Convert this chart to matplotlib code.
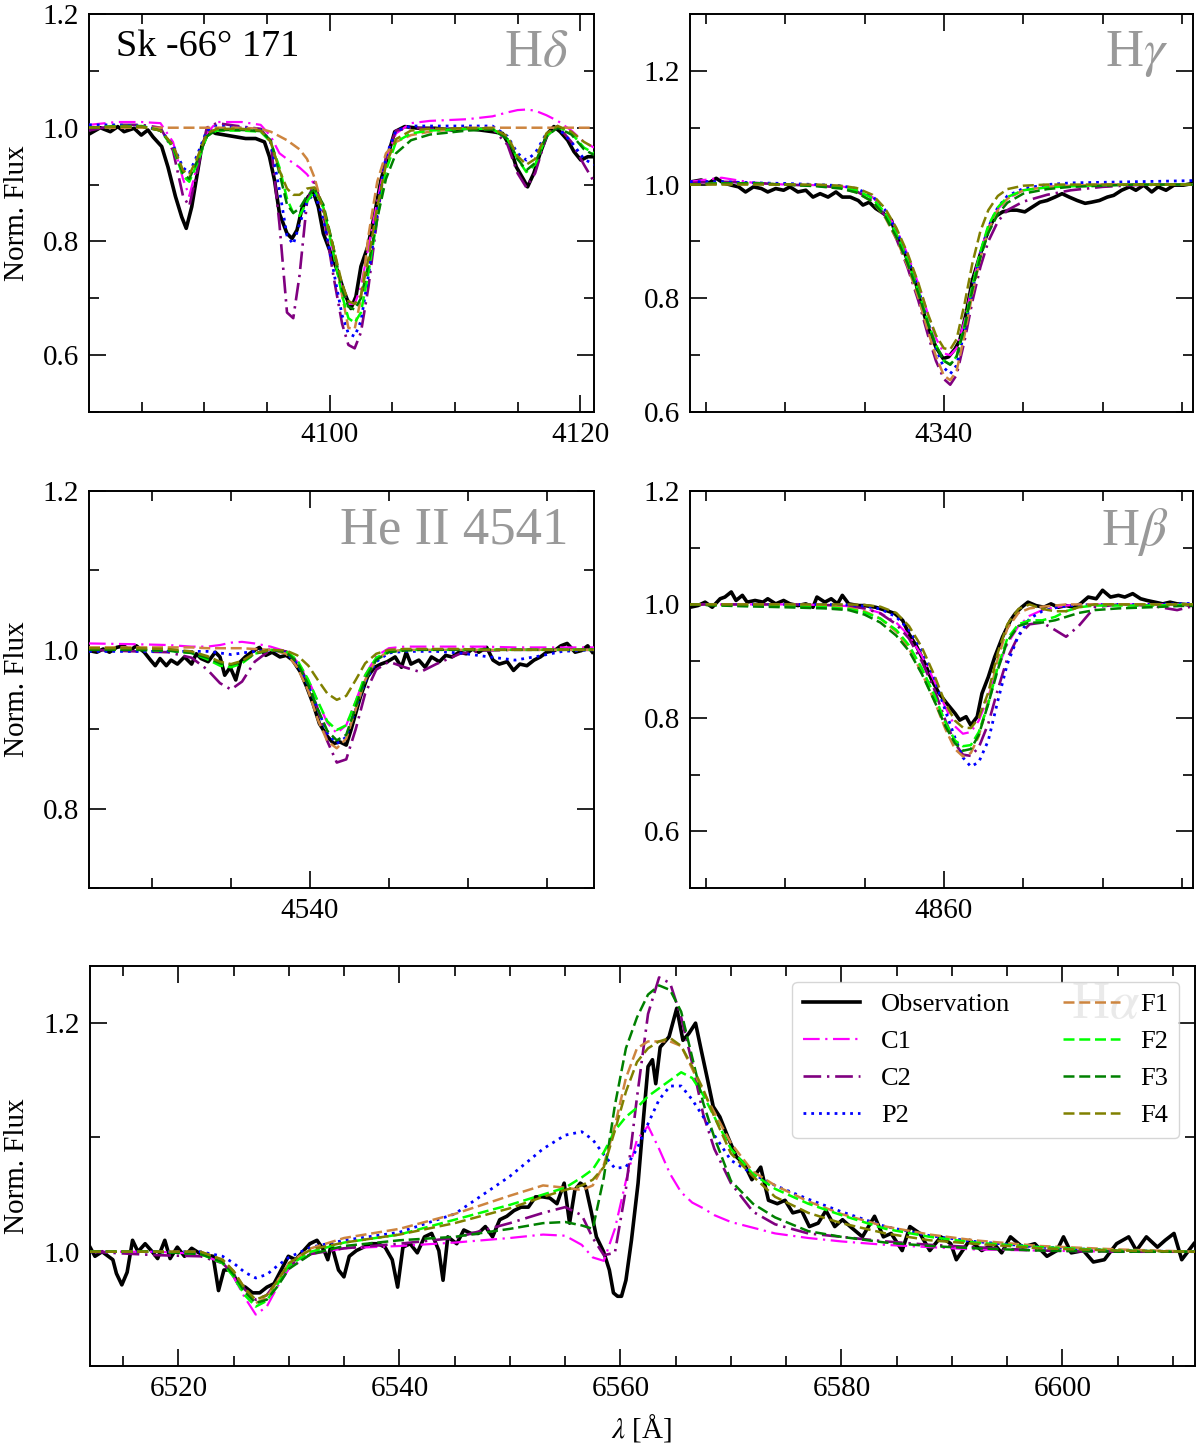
import matplotlib
matplotlib.use('Agg')
import matplotlib.pyplot as plt
from matplotlib.ticker import MultipleLocator, FormatStrFormatter

plt.rcParams['font.family'] = 'serif'
plt.rcParams['font.serif'] = ['Liberation Serif', 'DejaVu Serif']
plt.rcParams['mathtext.fontset'] = 'stix'

model_names = ['C1', 'C2', 'P2', 'F1', 'F2', 'F3', 'F4']

# ---------------- H delta ----------------
hd_obs = [(4080.9, 0.990), (4081.7, 1.000), (4082.5, 0.993), (4083.1, 1.002), (4083.6, 0.993),
          (4084.4, 0.999), (4084.97, 0.987), (4085.5, 0.996), (4085.9, 0.984), (4086.6, 0.967),
          (4087.1, 0.931), (4087.7, 0.879), (4088.2, 0.843), (4088.56, 0.823), (4089.0, 0.861),
          (4089.4, 0.914), (4089.8, 0.967), (4090.4, 0.996), (4090.9, 0.990), (4091.7, 0.987),
          (4092.5, 0.984), (4093.3, 0.981), (4094.1, 0.981), (4094.8, 0.975), (4095.2, 0.949),
          (4095.6, 0.908), (4096.0, 0.849), (4096.6, 0.814), (4097.0, 0.805), (4097.4, 0.820),
          (4097.8, 0.858), (4098.3, 0.879), (4098.7, 0.887), (4099.1, 0.861), (4099.5, 0.814),
          (4100.1, 0.779), (4100.6, 0.750), (4101.2, 0.709), (4101.7, 0.682), (4102.1, 0.703),
          (4102.5, 0.756), (4103.05, 0.791), (4103.6, 0.849), (4104.1, 0.908), (4104.7, 0.955),
          (4105.2, 0.993), (4106.0, 1.002), (4107.1, 0.999), (4108.4, 0.999), (4109.8, 0.996),
          (4110.9, 0.999), (4112.0, 0.996), (4113.0, 0.993), (4113.8, 0.990), (4114.4, 0.967),
          (4114.9, 0.931), (4115.5, 0.908), (4115.8, 0.896), (4116.3, 0.920), (4116.8, 0.955),
          (4117.4, 0.990), (4117.9, 1.002), (4118.4, 0.993), (4119.0, 0.978), (4119.5, 0.958),
          (4120.05, 0.943), (4120.6, 0.949), (4121.0, 0.949)]
hd_grid = [4080.8, 4083, 4085, 4086.5, 4087.5, 4088.3, 4088.8, 4089.4, 4090.2, 4091,
           4093, 4094.5, 4095.3, 4096, 4096.6, 4097.1, 4097.6, 4098.2, 4098.8, 4099.5,
           4100.3, 4101, 4101.5, 4102, 4102.5, 4103.1, 4103.8, 4104.5, 4105.3, 4106.5,
           4108, 4111, 4113, 4114.2, 4115, 4115.7, 4116.4, 4117.3, 4118.2, 4119.3,
           4120.3, 4121.1]
hd_C1 = [1.005, 1.010, 1.010, 1.008, 0.975, 0.910, 0.880, 0.930, 0.990, 1.010,
         1.010, 1.005, 0.985, 0.955, 0.945, 0.938, 0.930, 0.918, 0.900, 0.860,
         0.780, 0.715, 0.690, 0.690, 0.720, 0.790, 0.870, 0.945, 0.990, 1.008,
         1.012, 1.015, 1.020, 1.027, 1.031, 1.032, 1.030, 1.022, 1.012, 0.995,
         0.975, 0.965]
hd_C2 = [0.995, 1.005, 1.005, 1.000, 0.960, 0.880, 0.862, 0.920, 1.000, 1.008,
         1.002, 0.998, 0.975, 0.830, 0.675, 0.665, 0.740, 0.870, 0.905, 0.850,
         0.740, 0.655, 0.618, 0.612, 0.640, 0.720, 0.840, 0.950, 0.995, 1.000,
         0.998, 0.999, 0.998, 0.970, 0.920, 0.895, 0.920, 0.985, 1.003, 0.975,
         0.935, 0.905]
hd_P2 = [1.005, 1.005, 1.003, 0.995, 0.970, 0.930, 0.920, 0.950, 0.995, 1.003,
         1.000, 0.998, 0.975, 0.890, 0.810, 0.795, 0.830, 0.870, 0.885, 0.840,
         0.750, 0.670, 0.638, 0.633, 0.660, 0.740, 0.850, 0.950, 0.995, 1.003,
         1.003, 1.003, 1.003, 0.985, 0.955, 0.943, 0.955, 0.990, 1.000, 0.975,
         0.945, 0.935]
hd_F1 = [1.000, 1.000, 1.000, 1.000, 1.000, 1.000, 1.000, 1.000, 1.000, 1.000,
         1.000, 0.998, 0.993, 0.985, 0.978, 0.970, 0.962, 0.945, 0.912, 0.855,
         0.790, 0.705, 0.648, 0.646, 0.700, 0.810, 0.905, 0.955, 0.975, 0.987,
         0.993, 1.000, 1.000, 1.000, 1.000, 1.000, 1.000, 1.000, 1.000, 1.000,
         1.000, 1.000]
hd_F2 = [1.000, 1.003, 1.003, 0.995, 0.965, 0.915, 0.905, 0.935, 0.985, 0.995,
         0.995, 0.993, 0.975, 0.930, 0.875, 0.850, 0.845, 0.870, 0.890, 0.860,
         0.780, 0.705, 0.665, 0.657, 0.675, 0.745, 0.840, 0.925, 0.975, 0.990,
         0.995, 0.998, 0.998, 0.980, 0.945, 0.922, 0.935, 0.985, 1.002, 0.990,
         0.965, 0.955]
hd_F3 = [1.000, 1.002, 1.002, 0.995, 0.968, 0.920, 0.910, 0.940, 0.985, 0.996,
         0.996, 0.994, 0.978, 0.920, 0.865, 0.850, 0.858, 0.880, 0.892, 0.865,
         0.790, 0.715, 0.685, 0.680, 0.700, 0.760, 0.840, 0.910, 0.955, 0.978,
         0.988, 0.995, 0.997, 0.980, 0.945, 0.925, 0.938, 0.985, 1.000, 0.988,
         0.962, 0.952]
hd_F4 = [1.000, 1.002, 1.002, 0.995, 0.970, 0.925, 0.917, 0.945, 0.990, 0.998,
         0.998, 0.995, 0.975, 0.925, 0.893, 0.882, 0.882, 0.893, 0.895, 0.860,
         0.790, 0.725, 0.695, 0.690, 0.705, 0.770, 0.860, 0.935, 0.980, 0.995,
         0.998, 0.999, 0.999, 0.985, 0.950, 0.935, 0.945, 0.990, 1.003, 0.993,
         0.975, 0.965]

# ---------------- H gamma ----------------
hg_obs = [(4324.1, 1.005), (4324.7, 1.008), (4325.2, 1.003), (4325.65, 1.011), (4326.1, 1.003),
          (4326.6, 0.999), (4327.06, 0.996), (4327.5, 0.987), (4328.0, 0.996), (4328.5, 0.993),
          (4328.9, 0.987), (4329.4, 0.993), (4329.9, 0.990), (4330.3, 0.996), (4330.8, 0.987),
          (4331.3, 0.990), (4331.75, 0.978), (4332.2, 0.984), (4332.7, 0.978), (4333.2, 0.987),
          (4333.6, 0.978), (4334.1, 0.978), (4334.6, 0.972), (4334.9, 0.964), (4335.3, 0.969),
          (4335.7, 0.958), (4336.2, 0.949), (4336.7, 0.937), (4337.0, 0.908), (4337.4, 0.890),
          (4337.7, 0.867), (4338.1, 0.843), (4338.5, 0.796), (4339.0, 0.749), (4339.5, 0.714),
          (4339.95, 0.694), (4340.3, 0.697), (4340.7, 0.711), (4341.0, 0.726), (4341.4, 0.773),
          (4341.8, 0.832), (4342.3, 0.878), (4342.8, 0.920), (4343.2, 0.943), (4343.7, 0.952),
          (4344.2, 0.955), (4344.6, 0.955), (4345.1, 0.952), (4345.6, 0.961), (4346.05, 0.969),
          (4346.5, 0.972), (4347.0, 0.978), (4347.45, 0.984), (4347.9, 0.978), (4348.4, 0.972),
          (4348.9, 0.967), (4349.3, 0.969), (4349.8, 0.972), (4350.3, 0.978), (4350.7, 0.981),
          (4351.2, 0.990), (4351.7, 0.996), (4352.1, 0.990), (4352.6, 0.999), (4353.1, 0.987),
          (4353.5, 0.996), (4354.0, 0.990), (4354.5, 0.999), (4355.1, 0.999), (4355.7, 1.002)]
hg_grid = [4324, 4326, 4328, 4330, 4332, 4333.5, 4334.5, 4335.5, 4336.3, 4337,
           4337.7, 4338.4, 4339, 4339.5, 4340, 4340.4, 4340.8, 4341.3, 4341.8, 4342.3,
           4342.8, 4343.4, 4344, 4345, 4346.5, 4348, 4350, 4352, 4354, 4355.7]
hg_C1 = [1.005, 1.012, 1.003, 1.000, 0.999, 0.997, 0.992, 0.978, 0.955, 0.922,
         0.878, 0.825, 0.772, 0.730, 0.703, 0.700, 0.712, 0.760, 0.825, 0.882,
         0.925, 0.957, 0.975, 0.990, 0.996, 0.998, 1.000, 1.000, 1.000, 1.000]
hg_C2 = [1.003, 1.005, 1.003, 1.000, 0.998, 0.995, 0.988, 0.972, 0.945, 0.905,
         0.855, 0.795, 0.735, 0.690, 0.658, 0.648, 0.665, 0.725, 0.795, 0.855,
         0.900, 0.935, 0.955, 0.970, 0.982, 0.990, 0.996, 0.999, 1.000, 1.000]
hg_P2 = [1.005, 1.005, 1.003, 1.002, 1.000, 0.998, 0.993, 0.980, 0.955, 0.920,
         0.872, 0.815, 0.758, 0.712, 0.678, 0.667, 0.682, 0.742, 0.815, 0.878,
         0.925, 0.960, 0.980, 0.993, 1.000, 1.003, 1.004, 1.005, 1.006, 1.007]
hg_F1 = [1.000, 1.002, 1.002, 1.000, 0.998, 0.994, 0.986, 0.970, 0.942, 0.905,
         0.858, 0.800, 0.742, 0.698, 0.664, 0.656, 0.672, 0.735, 0.808, 0.872,
         0.920, 0.955, 0.975, 0.990, 0.996, 0.998, 1.000, 1.000, 1.000, 1.000]
hg_F2 = [1.000, 1.002, 1.002, 1.000, 0.998, 0.995, 0.990, 0.976, 0.950, 0.914,
         0.868, 0.812, 0.758, 0.718, 0.690, 0.684, 0.698, 0.752, 0.822, 0.882,
         0.928, 0.960, 0.978, 0.990, 0.995, 0.997, 0.999, 1.000, 1.000, 1.000]
hg_F3 = [1.000, 1.002, 1.002, 1.000, 0.997, 0.993, 0.986, 0.970, 0.944, 0.908,
         0.862, 0.808, 0.755, 0.716, 0.690, 0.683, 0.697, 0.748, 0.815, 0.872,
         0.915, 0.948, 0.968, 0.984, 0.992, 0.996, 0.998, 1.000, 1.000, 1.000]
hg_F4 = [1.000, 1.000, 1.000, 1.000, 1.000, 0.998, 0.994, 0.982, 0.958, 0.924,
         0.880, 0.826, 0.772, 0.735, 0.712, 0.710, 0.728, 0.790, 0.862, 0.918,
         0.955, 0.980, 0.992, 0.998, 1.000, 1.000, 1.000, 1.000, 1.000, 1.000]

# ---------------- He II 4541 ----------------
he_obs = [(4526.0, 0.999), (4526.5, 0.997), (4526.9, 1.001), (4527.3, 0.997), (4527.75, 1.003),
          (4528.2, 1.005), (4528.6, 0.999), (4529.0, 1.005), (4529.5, 0.997), (4529.9, 0.987),
          (4530.2, 0.980), (4530.5, 0.989), (4530.9, 0.980), (4531.2, 0.987), (4531.6, 0.982),
          (4532.05, 0.991), (4532.5, 0.982), (4532.8, 0.995), (4533.1, 0.989), (4533.55, 0.985),
          (4534.0, 0.997), (4534.3, 0.991), (4534.6, 0.968), (4534.95, 0.978), (4535.3, 0.962),
          (4535.6, 0.985), (4535.9, 0.991), (4536.3, 0.997), (4536.8, 1.003), (4537.2, 0.993),
          (4537.6, 0.997), (4538.1, 0.991), (4538.5, 0.993), (4538.9, 0.987), (4539.4, 0.972),
          (4539.8, 0.953), (4540.2, 0.932), (4540.6, 0.907), (4541.1, 0.891), (4541.5, 0.882),
          (4541.9, 0.884), (4542.3, 0.880), (4542.6, 0.899), (4542.9, 0.920), (4543.2, 0.941),
          (4543.65, 0.966), (4544.1, 0.978), (4544.5, 0.982), (4544.9, 0.985), (4545.4, 0.991),
          (4545.8, 0.978), (4546.1, 0.997), (4546.4, 0.982), (4546.9, 0.987), (4547.3, 0.978),
          (4547.7, 0.991), (4548.2, 0.985), (4548.6, 0.993), (4549.0, 0.991), (4549.45, 0.997),
          (4549.9, 0.995), (4550.3, 1.001), (4550.7, 0.997), (4551.2, 1.003), (4551.6, 0.987),
          (4552.0, 0.982), (4552.5, 0.985), (4552.9, 0.974), (4553.3, 0.982), (4553.75, 0.980),
          (4554.2, 0.987), (4554.6, 0.991), (4555.0, 0.997), (4555.5, 0.999), (4555.9, 1.005),
          (4556.3, 1.008), (4556.8, 0.997), (4557.2, 0.999), (4557.6, 1.005), (4557.9, 0.997)]
he_grid = [4526, 4529, 4531, 4532.5, 4533.5, 4534.3, 4535, 4535.7, 4536.5, 4537.5,
           4538.5, 4539.2, 4539.9, 4540.5, 4541.1, 4541.7, 4542.3, 4542.9, 4543.5, 4544.2,
           4545, 4546, 4547, 4548, 4549.5, 4551, 4553, 4554.5, 4556, 4558]
he_C1 = [1.008, 1.007, 1.006, 1.004, 1.004, 1.006, 1.009, 1.010, 1.008, 1.004,
         0.998, 0.985, 0.962, 0.935, 0.908, 0.895, 0.905, 0.935, 0.968, 0.992,
         1.002, 1.004, 1.004, 1.004, 1.004, 1.004, 1.003, 1.003, 1.003, 1.003]
he_C2 = [1.000, 0.998, 0.997, 0.990, 0.975, 0.958, 0.950, 0.960, 0.985, 1.000,
         0.998, 0.985, 0.958, 0.925, 0.885, 0.858, 0.862, 0.900, 0.945, 0.975,
         0.985, 0.978, 0.972, 0.982, 0.995, 0.999, 1.000, 1.000, 1.000, 1.000]
he_P2 = [0.998, 0.998, 0.998, 0.998, 0.998, 0.996, 0.994, 0.996, 0.998, 1.000,
         0.996, 0.982, 0.955, 0.925, 0.895, 0.882, 0.890, 0.925, 0.960, 0.985,
         0.996, 0.998, 0.998, 0.998, 0.996, 0.992, 0.987, 0.992, 0.998, 1.000]
he_F1 = [1.003, 1.003, 1.003, 1.003, 1.002, 1.002, 1.002, 1.002, 1.001, 1.000,
         0.995, 0.978, 0.948, 0.912, 0.885, 0.876, 0.888, 0.925, 0.962, 0.988,
         0.998, 1.000, 1.000, 1.000, 1.000, 1.000, 1.000, 1.000, 1.000, 1.000]
he_F2 = [1.000, 1.000, 0.999, 0.996, 0.988, 0.980, 0.978, 0.983, 0.995, 1.000,
         0.998, 0.987, 0.962, 0.935, 0.910, 0.899, 0.905, 0.935, 0.968, 0.990,
         0.998, 1.000, 1.000, 1.000, 1.000, 1.000, 1.000, 1.000, 1.000, 1.000]
he_F3 = [1.000, 1.000, 0.999, 0.996, 0.990, 0.983, 0.981, 0.985, 0.995, 1.000,
         0.997, 0.984, 0.956, 0.925, 0.898, 0.886, 0.893, 0.928, 0.963, 0.987,
         0.997, 0.999, 1.000, 1.000, 1.000, 1.000, 1.000, 1.000, 1.000, 1.000]
he_F4 = [1.002, 1.002, 1.001, 0.998, 0.992, 0.985, 0.982, 0.986, 0.996, 1.000,
         0.999, 0.993, 0.980, 0.962, 0.945, 0.937, 0.942, 0.962, 0.983, 0.995,
         1.000, 1.001, 1.001, 1.001, 1.001, 1.000, 1.000, 1.000, 1.000, 1.000]

# ---------------- H beta ----------------
hb_obs = [(4844.0, 0.995), (4844.5, 0.998), (4844.95, 1.004), (4845.4, 0.995), (4845.9, 1.010),
          (4846.2, 1.013), (4846.6, 1.022), (4846.9, 1.007), (4847.3, 1.016), (4847.6, 1.004),
          (4848.1, 1.007), (4848.6, 1.004), (4848.9, 1.010), (4849.4, 1.001), (4849.9, 1.007),
          (4850.3, 1.001), (4850.8, 0.998), (4851.3, 1.001), (4851.75, 0.995), (4852.0, 1.013),
          (4852.5, 1.004), (4852.9, 1.010), (4853.3, 1.001), (4853.6, 1.016), (4854.0, 1.001),
          (4854.6, 0.998), (4855.0, 0.998), (4855.7, 0.995), (4856.4, 0.989), (4856.9, 0.984),
          (4857.4, 0.972), (4857.8, 0.948), (4858.3, 0.925), (4858.8, 0.896), (4859.25, 0.866),
          (4859.7, 0.843), (4860.2, 0.825), (4860.7, 0.808), (4861.0, 0.796), (4861.4, 0.802),
          (4861.7, 0.787), (4862.1, 0.802), (4862.4, 0.843), (4862.8, 0.872), (4863.2, 0.907),
          (4863.7, 0.943), (4864.2, 0.972), (4864.5, 0.984), (4864.9, 0.995), (4865.3, 1.004),
          (4865.8, 0.998), (4866.3, 0.995), (4866.75, 1.001), (4867.2, 0.995), (4867.7, 0.998),
          (4868.2, 0.995), (4868.6, 1.001), (4869.1, 1.013), (4869.6, 1.010), (4870.0, 1.025),
          (4870.5, 1.013), (4871.0, 1.016), (4871.4, 1.013), (4871.9, 1.019), (4872.4, 1.010),
          (4872.8, 1.007), (4873.3, 1.004), (4873.8, 1.001), (4874.25, 1.004), (4874.7, 1.001),
          (4875.2, 1.000), (4875.7, 0.998)]
hb_grid = [4844, 4847, 4850, 4852.5, 4854, 4855, 4856, 4857, 4857.8, 4858.6,
           4859.4, 4860.1, 4860.7, 4861.2, 4861.7, 4862.2, 4862.8, 4863.4, 4864, 4864.7,
           4865.4, 4866.2, 4867, 4867.7, 4868.5, 4869.5, 4871, 4873, 4874.7, 4875.7]
hb_C1 = [1.000, 1.000, 1.000, 0.999, 0.997, 0.993, 0.985, 0.968, 0.945, 0.910,
         0.865, 0.818, 0.785, 0.772, 0.775, 0.795, 0.838, 0.888, 0.930, 0.962,
         0.980, 0.990, 0.995, 0.998, 1.000, 1.000, 1.000, 1.000, 1.000, 1.000]
hb_C2 = [1.000, 1.000, 1.000, 0.999, 0.997, 0.993, 0.984, 0.965, 0.940, 0.900,
         0.850, 0.795, 0.755, 0.735, 0.733, 0.748, 0.790, 0.850, 0.905, 0.945,
         0.965, 0.968, 0.955, 0.943, 0.962, 0.995, 1.000, 0.998, 0.990, 0.997]
hb_P2 = [1.000, 1.000, 1.000, 1.000, 0.999, 0.997, 0.992, 0.978, 0.955, 0.920,
         0.870, 0.812, 0.765, 0.730, 0.714, 0.722, 0.760, 0.830, 0.895, 0.945,
         0.975, 0.988, 0.994, 0.997, 0.999, 1.000, 1.000, 1.000, 1.001, 1.002]
hb_F1 = [1.000, 1.000, 1.000, 0.998, 0.994, 0.988, 0.975, 0.952, 0.922, 0.880,
         0.830, 0.780, 0.745, 0.732, 0.738, 0.768, 0.830, 0.905, 0.958, 0.985,
         0.993, 0.996, 0.998, 1.000, 1.000, 1.000, 1.000, 1.000, 1.000, 1.000]
hb_F2 = [1.000, 0.998, 0.997, 0.995, 0.992, 0.986, 0.975, 0.955, 0.928, 0.888,
         0.840, 0.792, 0.760, 0.750, 0.752, 0.775, 0.825, 0.890, 0.940, 0.965,
         0.972, 0.972, 0.978, 0.988, 0.995, 0.998, 0.998, 0.998, 0.999, 1.000]
hb_F3 = [1.000, 0.997, 0.995, 0.993, 0.990, 0.982, 0.968, 0.945, 0.918, 0.878,
         0.830, 0.785, 0.755, 0.742, 0.745, 0.770, 0.825, 0.885, 0.935, 0.962,
         0.968, 0.968, 0.972, 0.978, 0.985, 0.990, 0.993, 0.995, 0.997, 0.998]
hb_F4 = [1.000, 1.000, 1.000, 1.000, 1.000, 0.999, 0.996, 0.985, 0.962, 0.925,
         0.875, 0.825, 0.795, 0.783, 0.782, 0.800, 0.845, 0.915, 0.965, 0.992,
         1.000, 0.992, 0.988, 0.988, 0.995, 1.000, 1.000, 1.000, 1.000, 1.000]

# ---------------- H alpha ----------------
ha_obs = [(6512.0, 1.004), (6512.45, 0.996), (6513.1, 1.000), (6514.07, 0.993), (6514.39, 0.981),
          (6514.88, 0.971), (6515.36, 0.982), (6515.85, 1.010), (6516.34, 1.000), (6516.99, 1.007),
          (6517.63, 1.000), (6518.12, 0.994), (6518.77, 1.010), (6519.25, 0.994), (6519.9, 1.004),
          (6520.55, 0.996), (6521.2, 1.003), (6521.85, 0.999), (6522.5, 0.997), (6523.14, 0.996),
          (6523.63, 0.966), (6524.12, 0.984), (6524.76, 0.984), (6525.41, 0.972), (6526.06, 0.969),
          (6526.71, 0.964), (6527.36, 0.964), (6528.01, 0.969), (6528.65, 0.972), (6529.3, 0.984),
          (6529.95, 0.996), (6530.6, 0.993), (6531.25, 1.000), (6531.9, 1.007), (6532.54, 1.010),
          (6533.19, 1.001), (6533.52, 0.993), (6533.84, 1.007), (6534.49, 0.984), (6534.98, 0.978),
          (6535.46, 0.996), (6536.11, 1.001), (6536.76, 1.004), (6537.41, 1.007), (6538.06, 1.007),
          (6538.7, 1.004), (6539.35, 0.993), (6539.84, 0.969), (6540.32, 1.004), (6540.97, 1.007),
          (6541.62, 0.999), (6542.27, 1.013), (6542.92, 1.016), (6543.57, 1.001), (6543.95, 0.975),
          (6544.38, 1.013), (6545.19, 1.007), (6545.83, 1.019), (6546.48, 1.016), (6547.13, 1.016),
          (6547.78, 1.022), (6548.43, 1.013), (6549.08, 1.028), (6549.72, 1.031), (6550.37, 1.036),
          (6551.02, 1.039), (6551.67, 1.039), (6552.32, 1.048), (6552.97, 1.048), (6553.61, 1.047),
          (6554.26, 1.042), (6554.91, 1.060), (6555.4, 1.025), (6555.88, 1.054), (6556.37, 1.060),
          (6556.86, 1.057), (6557.34, 1.036), (6557.83, 1.013), (6558.48, 1.000), (6559.0, 0.984),
          (6559.37, 0.964), (6559.74, 0.961), (6560.1, 0.961), (6560.5, 0.975), (6561.0, 1.010),
          (6561.6, 1.060), (6562.1, 1.118), (6562.5, 1.162), (6562.9, 1.168), (6563.2, 1.147),
          (6563.6, 1.179), (6564.4, 1.188), (6565.1, 1.213), (6565.66, 1.185), (6566.2, 1.191),
          (6566.8, 1.200), (6567.3, 1.177), (6567.9, 1.150), (6568.4, 1.127), (6569.0, 1.118),
          (6569.7, 1.101), (6570.5, 1.083), (6571.2, 1.077), (6571.9, 1.063), (6572.7, 1.074),
          (6573.4, 1.045), (6574.2, 1.042), (6574.9, 1.045), (6575.6, 1.034), (6576.4, 1.036),
          (6577.1, 1.022), (6577.9, 1.025), (6578.6, 1.036), (6579.4, 1.022), (6580.1, 1.028),
          (6580.8, 1.022), (6581.9, 1.013), (6583.0, 1.031), (6583.8, 1.013), (6584.5, 1.016),
          (6585.5, 1.001), (6586.2, 1.022), (6587.1, 1.016), (6588.0, 1.001), (6589.0, 1.013),
          (6589.9, 1.007), (6590.4, 0.993), (6591.6, 1.010), (6592.7, 1.001), (6593.8, 1.007),
          (6594.5, 0.999), (6595.3, 1.013), (6596.4, 1.004), (6597.5, 1.007), (6598.6, 0.996),
          (6599.5, 1.001), (6600.1, 1.013), (6600.8, 0.999), (6601.9, 1.001), (6602.8, 0.991),
          (6603.8, 0.993), (6604.9, 1.007), (6606.0, 1.013), (6606.7, 1.001), (6607.6, 1.013),
          (6608.6, 1.004), (6609.3, 1.010), (6610.1, 1.016), (6610.8, 0.993), (6611.9, 1.007)]
ha_grid = [6512, 6518, 6522, 6524, 6525, 6526, 6527, 6528, 6529, 6530,
           6532, 6535, 6540, 6545, 6550, 6553, 6555, 6556.5, 6557.5, 6558.5,
           6559.5, 6560.5, 6561.5, 6562.5, 6563.5, 6564.5, 6565.5, 6566.5, 6567.5, 6568.5,
           6570, 6572, 6574, 6577, 6580, 6584, 6588, 6592, 6598, 6605,
           6612]
ha_C1 = [1.000, 1.000, 0.998, 0.990, 0.978, 0.960, 0.945, 0.952, 0.970, 0.985,
         0.998, 1.003, 1.005, 1.008, 1.012, 1.015, 1.014, 1.006, 0.995, 0.992,
         1.020, 1.062, 1.098, 1.110, 1.090, 1.068, 1.052, 1.043, 1.038, 1.032,
         1.026, 1.021, 1.016, 1.012, 1.009, 1.006, 1.004, 1.002, 1.001, 1.000,
         1.000]
ha_C2 = [1.000, 0.997, 0.996, 0.990, 0.980, 0.967, 0.958, 0.962, 0.975, 0.988,
         0.998, 1.003, 1.007, 1.012, 1.025, 1.034, 1.039, 1.032, 1.012, 0.997,
         0.999, 1.055, 1.135, 1.208, 1.240, 1.235, 1.205, 1.165, 1.120, 1.090,
         1.060, 1.035, 1.024, 1.016, 1.013, 1.009, 1.006, 1.004, 1.001, 1.000,
         1.000]
ha_P2 = [1.000, 1.000, 1.000, 0.996, 0.990, 0.982, 0.977, 0.980, 0.988, 0.995,
         1.004, 1.010, 1.017, 1.033, 1.066, 1.090, 1.102, 1.105, 1.098, 1.085,
         1.073, 1.074, 1.090, 1.112, 1.133, 1.145, 1.145, 1.133, 1.118, 1.102,
         1.080, 1.068, 1.058, 1.046, 1.035, 1.022, 1.014, 1.009, 1.004, 1.001,
         1.000]
ha_F1 = [1.000, 1.000, 1.000, 0.993, 0.983, 0.968, 0.955, 0.960, 0.975, 0.990,
         1.003, 1.012, 1.020, 1.033, 1.049, 1.058, 1.056, 1.054, 1.058, 1.076,
         1.110, 1.152, 1.178, 1.184, 1.184, 1.184, 1.180, 1.160, 1.140, 1.122,
         1.095, 1.070, 1.058, 1.044, 1.033, 1.022, 1.015, 1.010, 1.005, 1.002,
         1.000]
ha_F2 = [1.000, 1.000, 0.998, 0.990, 0.978, 0.962, 0.952, 0.957, 0.972, 0.988,
         1.000, 1.008, 1.015, 1.028, 1.041, 1.050, 1.056, 1.065, 1.072, 1.087,
         1.106, 1.118, 1.126, 1.136, 1.143, 1.150, 1.157, 1.152, 1.137, 1.118,
         1.090, 1.068, 1.055, 1.042, 1.032, 1.020, 1.013, 1.008, 1.004, 1.001,
         1.000]
ha_F3 = [1.000, 1.000, 0.998, 0.991, 0.980, 0.965, 0.955, 0.958, 0.970, 0.985,
         0.998, 1.005, 1.010, 1.013, 1.020, 1.025, 1.026, 1.023, 1.020, 1.065,
         1.128, 1.178, 1.205, 1.225, 1.233, 1.229, 1.210, 1.170, 1.130, 1.100,
         1.062, 1.042, 1.030, 1.018, 1.013, 1.008, 1.005, 1.003, 1.001, 1.000,
         1.000]
ha_F4 = [1.000, 1.000, 1.000, 0.993, 0.983, 0.968, 0.958, 0.962, 0.975, 0.990,
         1.002, 1.008, 1.015, 1.025, 1.038, 1.048, 1.054, 1.058, 1.063, 1.074,
         1.106, 1.140, 1.166, 1.178, 1.184, 1.187, 1.180, 1.162, 1.142, 1.118,
         1.086, 1.066, 1.048, 1.034, 1.025, 1.016, 1.010, 1.007, 1.003, 1.001,
         1.000]

# ---------------- styling ----------------
styles = {
    'C1': dict(color='#ff00ff', ls=(0, (7.5, 2.5, 1, 2.5)), lw=1.6),
    'C2': dict(color='#800080', ls=(0, (6.7, 2.2, 0.9, 2.2)), lw=1.9),
    'P2': dict(color='#0000ff', ls=(0, (1, 1.8)), lw=2.0),
    'F1': dict(color='#cd853f', ls=(0, (4.4, 1.9)), lw=1.8),
    'F2': dict(color='#00ff00', ls=(0, (4.4, 1.9)), lw=1.8),
    'F3': dict(color='#008000', ls=(0, (4.4, 1.9)), lw=1.8),
    'F4': dict(color='#808000', ls=(0, (4.4, 1.9)), lw=1.8),
}

panels = [
    dict(rect=(89, 14, 594, 412), obs=hd_obs, grid=hd_grid,
         models=[hd_C1, hd_C2, hd_P2, hd_F1, hd_F2, hd_F3, hd_F4],
         xlim=(4080.8, 4121.1), ylim=(0.5, 1.2), label='H$\\delta$', ylab=True),
    dict(rect=(690, 14, 1193, 412), obs=hg_obs, grid=hg_grid,
         models=[hg_C1, hg_C2, hg_P2, hg_F1, hg_F2, hg_F3, hg_F4],
         xlim=(4324.0, 4355.7), ylim=(0.6, 1.3), label='H$\\gamma$', ylab=False),
    dict(rect=(89, 491, 594, 888), obs=he_obs, grid=he_grid,
         models=[he_C1, he_C2, he_P2, he_F1, he_F2, he_F3, he_F4],
         xlim=(4526.0, 4558.0), ylim=(0.7, 1.2), label='He II 4541', ylab=True),
    dict(rect=(690, 491, 1193, 888), obs=hb_obs, grid=hb_grid,
         models=[hb_C1, hb_C2, hb_P2, hb_F1, hb_F2, hb_F3, hb_F4],
         xlim=(4844.0, 4875.7), ylim=(0.5, 1.2), label='H$\\beta$', ylab=False),
    dict(rect=(90, 966, 1195, 1366), obs=ha_obs, grid=ha_grid,
         models=[ha_C1, ha_C2, ha_P2, ha_F1, ha_F2, ha_F3, ha_F4],
         xlim=(6512.0, 6612.0), ylim=(0.9, 1.25), label='H$\\alpha$', ylab=True),
]

W, H = 1200, 1447
fig = plt.figure(figsize=(W / 100, H / 100), dpi=100)

axes = []
for p in panels:
    l, t, r, b = p['rect']
    ax = fig.add_axes([l / W, 1 - b / H, (r - l) / W, (b - t) / H])
    axes.append(ax)
    ow = [v[0] for v in p['obs']]
    of = [v[1] for v in p['obs']]
    ax.plot(ow, of, color='black', lw=2.6, solid_joinstyle='round', label='Observation', zorder=2)
    for name, fl in zip(model_names, p['models']):
        st = styles[name]
        ax.plot(p['grid'], fl, color=st['color'], linestyle=st['ls'], lw=st['lw'],
                label=name, zorder=3)
    ax.set_xlim(*p['xlim'])
    ax.set_ylim(*p['ylim'])
    ax.xaxis.set_major_locator(MultipleLocator(20))
    ax.xaxis.set_minor_locator(MultipleLocator(5))
    ax.yaxis.set_major_locator(MultipleLocator(0.2))
    ax.yaxis.set_minor_locator(MultipleLocator(0.1))
    ax.xaxis.set_major_formatter(FormatStrFormatter('%d'))
    ax.yaxis.set_major_formatter(FormatStrFormatter('%.1f'))
    ax.tick_params(which='both', direction='in', top=True, right=True, width=1.2,
                   labelsize=21, pad=7)
    ax.tick_params(which='major', length=12)
    ax.tick_params(which='minor', length=7)
    for s in ax.spines.values():
        s.set_linewidth(1.4)
    ax.text(0.95, 0.962, p['label'], transform=ax.transAxes, ha='right', va='top',
            fontsize=38, color='#999999', zorder=1)
    if p['ylab']:
        cy = (t + b) / 2
        fig.text(17 / W, 1 - cy / H, 'Norm. Flux', rotation=90, ha='center', va='center',
                 fontsize=21)

axes[0].text(0.053, 0.962, 'Sk -66\u00b0 171', transform=axes[0].transAxes,
             ha='left', va='top', fontsize=27.5, color='black')

axes[4].legend(ncol=2, loc='upper right', fontsize=19, framealpha=0.8, edgecolor='0.8',
               handlelength=2.15, columnspacing=2.0, labelspacing=0.52, borderaxespad=0.6)

fig.text(642 / W, 1 - 1428 / H, '$\\lambda$ [\u00c5]', ha='center', va='center', fontsize=21)

fig.savefig('out.png', dpi=100)
